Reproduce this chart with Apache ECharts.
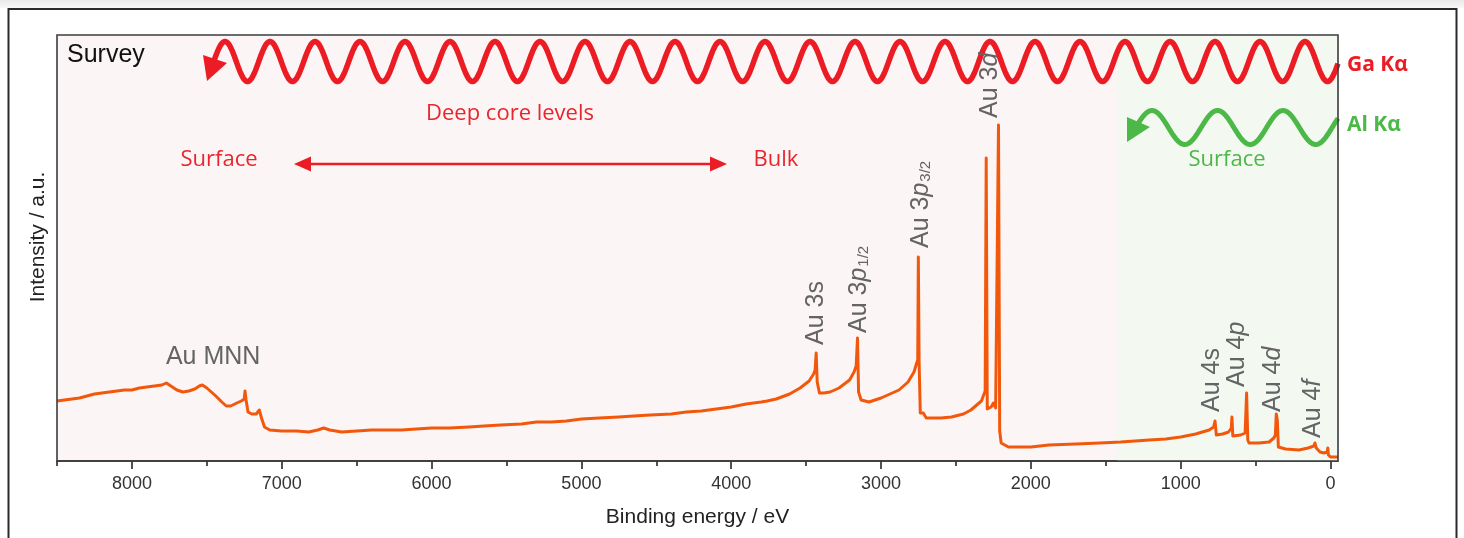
<!DOCTYPE html>
<html>
<head>
<meta charset="utf-8">
<script src="https://cdn.jsdelivr.net/npm/echarts@6/dist/echarts.min.js"></script>
<style>
html,body{margin:0;padding:0;background:#ffffff;}
#c{width:1464px;height:538px;}
</style>
</head>
<body>
<div id="c"></div>
<script>
// ---------- DATA ----------
const energy = [8500,8450,8400,8350,8300,8250,8200,8150,8100,8050,8000,7950,7900,7850,7800,7770,7740,7700,7660,7620,
  7580,7550,7530,7500,7470,7440,7400,7370,7340,7300,7270,7250,7245,7238,7225,7200,7170,7150,7135,7115,
  7080,7000,6900,6820,6760,6720,6680,6600,6500,6400,6300,6200,6100,6000,5880,5750,5650,5540,5400,5300,
  5200,5100,5000,4880,4750,4650,4540,4400,4300,4200,4100,4000,3900,3800,3760,3700,3610,3540,3480,3450,
  3440,3433,3426,3411,3380,3340,3280,3210,3180,3166,3157,3150,3133,3080,3000,2880,2820,2780,2762,2755,
  2751,2746,2738,2718,2698,2600,2530,2450,2400,2330,2305,2298,2291,2280,2265,2250,2235,2224,2216,2208,
  2198,2150,2000,1880,1700,1540,1400,1210,1100,1000,900,810,780,771,762,720,680,662,658,652,
  600,570,560,552,544,480,410,378,368,362,355,348,300,210,150,111,104,95,70,44,
  22,18,14,0,-50];
const intensity = [60,61,62,63,65,67,68,69,70,71,71,73,74,75,76,78,75,71,69,70,
  72,75,76,73,69,65,59,55,55,58,60,62,70,61,49,47,47,51,43,34,
  31,30,30,29,31,33,31,29,30,31,31,31,32,33,33,34,35,36,37,39,
  39,40,42,43,44,45,46,47,49,50,52,54,57,59,60,62,67,73,80,87,
  91,108,79,68,68,69,73,81,89,95,123,69,61,59,63,71,79,89,98,101,
  204,100,48,48,43,43,44,47,51,60,70,303,52,50,54,58,53,55,336,30,
  18,14,14,16,17,18,19,21,22,24,27,31,34,40,26,27,29,33,44,25,
  26,28,68,21,18,18,19,23,26,47,41,14,12,11,13,15,18,13,9,8,
  9,13,6,4,4];
const majorTicks = [0,1000,2000,3000,4000,5000,6000,7000,8000];
const minorTicks = [500,1500,2500,3500,4500,5500,6500,7500,8500];
const xMin = -50, xMax = 8500, yMin = 0, yMax = 426;
const alKaRegionStart = 1425;   // binding energy where the Al Kα (surface) region begins

const peakLabelText = [
  '{n|Au 3s}',
  '{n|Au 3}{i|p}{s|1/2}',
  '{n|Au 3}{i|p}{s|3/2}',
  '{n|Au 3}{i|d}',
  '{n|Au 4s}',
  '{n|Au 4}{i|p}',
  '{n|Au 4}{i|d}',
  '{n|Au 4}{i|f}'
];
const peakLabelEnergy = [3431, 3145, 2731, 2272, 792, 625, 385, 118];
const peakLabelLevel  = [116, 128, 213, 343, 49, 74, 49, 23];
const mnnLabel = 'Au MNN', mnnEnergy = 7458, mnnLevel = 104;

// ---------- STYLE ----------
const ORANGE = '#f2580c';
const PINK = '#fcf5f5';
const GREENBG = '#f3f8f1';
const RED = '#ec1c24';
const RED_TXT = '#e8262d';
const GREEN = '#4cb847';
const GRAY = '#646464';

const chart = echarts.init(document.getElementById('c'), null, {renderer: 'canvas'});
const seriesData = energy.map((e, i) => [e, intensity[i]]);

chart.setOption({
  animation: false,
  backgroundColor: '#ffffff',
  grid: {left: 57, top: 35, right: 126, bottom: 77, show: true, backgroundColor: PINK, borderWidth: 0},
  xAxis: [{
    type: 'value', min: xMin, max: xMax, inverse: true, position: 'bottom',
    axisLine: {show: true, onZero: false, lineStyle: {color: '#1a1a1a', width: 1.5}},
    axisTick: {show: true, customValues: majorTicks, length: 8, lineStyle: {color: '#1a1a1a', width: 1.5}},
    axisLabel: {customValues: majorTicks, fontSize: 18, color: '#333', margin: 14,
      fontFamily: 'Liberation Sans, Arial, sans-serif', formatter: v => String(v)},
    splitLine: {show: false},
    name: 'Binding energy / eV', nameLocation: 'middle', nameGap: 46,
    nameTextStyle: {fontSize: 21, color: '#222', fontFamily: 'Liberation Sans, Arial, sans-serif'}
  }, {
    type: 'value', min: xMin, max: xMax, inverse: true, position: 'bottom',
    axisLine: {show: false, onZero: false},
    axisTick: {show: true, customValues: minorTicks, length: 5, lineStyle: {color: '#1a1a1a', width: 1.5}},
    axisLabel: {show: false},
    splitLine: {show: false}
  }],
  yAxis: {
    type: 'value', min: yMin, max: yMax,
    axisLine: {show: false}, axisTick: {show: false}, axisLabel: {show: false}, splitLine: {show: false}
  },
  series: [{
    type: 'line', xAxisIndex: 0, yAxisIndex: 0,
    data: seriesData, symbol: 'none', showSymbol: false, sampling: null,
    lineStyle: {color: ORANGE, width: 3, join: 'round'},
    z: 5,
    markArea: {silent: true, itemStyle: {color: GREENBG}, data: [[{xAxis: alKaRegionStart}, {xAxis: xMin}]]}
  }]
});

// ---------- DECORATIONS ----------
const tl = chart.convertToPixel({gridIndex: 0}, [xMax, yMax]);
const br = chart.convertToPixel({gridIndex: 0}, [xMin, yMin]);

function wave(x0, x1, xPeak, period, yc, amp) {
  const pts = [];
  for (let x = x0; x <= x1 + 0.01; x += 1) {
    pts.push([x, yc - amp * Math.cos(2 * Math.PI * (x - xPeak) / period)]);
  }
  return pts;
}

const graphics = [];
graphics.push({type: 'rect', shape: {x: 0, y: 0, width: 1464, height: 8},
  style: {fill: new echarts.graphic.LinearGradient(0, 0, 0, 1, [{offset: 0, color: '#e9e9e9'}, {offset: 1, color: '#f8f8f8'}])}, z: 1});
graphics.push({type: 'rect', shape: {x: 8.5, y: 9, width: 1448, height: 545},
  style: {fill: null, stroke: '#2a2a2a', lineWidth: 2}, z: 1});
graphics.push({type: 'rect', shape: {x: tl[0], y: tl[1], width: br[0] - tl[0], height: br[1] - tl[1]},
  style: {fill: null, stroke: '#3c3c3c', lineWidth: 1.6}, z: 50});

graphics.push({type: 'text', x: 67, y: 55, z: 60,
  style: {text: 'Survey', fill: '#111', font: '25px "Liberation Sans", Arial, sans-serif', textVerticalAlign: 'middle'}});

// red wave (Ga Kα)
graphics.push({type: 'polyline', z: 40, shape: {points: wave(213, br[0], 225, 45, 61.5, 20)},
  style: {stroke: RED, lineWidth: 5.5, fill: null, lineJoin: 'round'}});
graphics.push({type: 'polygon', z: 40, shape: {points: [[203, 55], [207, 81], [227, 63]]}, style: {fill: RED}});

// green wave (Al Kα)
graphics.push({type: 'polyline', z: 40, shape: {points: wave(1138, br[0], 1152, 65.5, 127.5, 17)},
  style: {stroke: GREEN, lineWidth: 5, fill: null, lineJoin: 'round'}});
graphics.push({type: 'polygon', z: 40, shape: {points: [[1127, 117], [1127, 142], [1150, 127]]}, style: {fill: GREEN}});

const annFont = '22px "Open Sans", Lato, sans-serif';
function txt(t, x, y, color, font, align) {
  return {type: 'text', x: x, y: y, z: 60,
    style: {text: t, fill: color, font: font, textAlign: align || 'center', textVerticalAlign: 'middle'}};
}
graphics.push(txt('Deep core levels', 510, 114, RED_TXT, annFont));
graphics.push(txt('Surface', 219, 160, RED_TXT, annFont));
graphics.push(txt('Bulk', 776, 160, RED_TXT, annFont));
graphics.push(txt('Surface', 1227, 160, GREEN, annFont));
graphics.push(txt('Ga Kα', 1347, 65, RED, 'bold 21px "Open Sans", Lato, sans-serif', 'left'));
graphics.push(txt('Al Kα', 1347, 125, GREEN, 'bold 21px "Open Sans", Lato, sans-serif', 'left'));

// double arrow
graphics.push({type: 'line', z: 40, shape: {x1: 306, y1: 164, x2: 714, y2: 164}, style: {stroke: RED, lineWidth: 2.5}});
graphics.push({type: 'polygon', z: 40, shape: {points: [[294, 164], [311, 156.5], [311, 171.5]]}, style: {fill: RED}});
graphics.push({type: 'polygon', z: 40, shape: {points: [[727, 164], [710, 156.5], [710, 171.5]]}, style: {fill: RED}});

// y axis title
graphics.push({type: 'text', x: 38, y: 237, rotation: Math.PI / 2, z: 60,
  style: {text: 'Intensity / a.u.', fill: '#222', font: '21px "Liberation Sans", Arial, sans-serif',
    textAlign: 'center', textVerticalAlign: 'middle'}});

// peak labels
const labFam = '"Liberation Sans", Arial, sans-serif';
const rich = {
  n: {fontSize: 25, fontFamily: labFam, fill: GRAY},
  i: {fontSize: 25, fontFamily: labFam, fontStyle: 'italic', fill: GRAY},
  s: {fontSize: 15, fontFamily: labFam, fill: GRAY, verticalAlign: 'bottom', padding: [0, 0, 0, 1]}
};
peakLabelText.forEach((t, k) => {
  const p = chart.convertToPixel({gridIndex: 0}, [peakLabelEnergy[k], peakLabelLevel[k]]);
  graphics.push({type: 'text', x: p[0], y: p[1], rotation: Math.PI / 2, z: 60,
    style: {text: t, rich: rich, textAlign: 'left', textVerticalAlign: 'middle', fill: GRAY,
      font: '25px ' + labFam}});
});
const mp = chart.convertToPixel({gridIndex: 0}, [mnnEnergy, mnnLevel]);
graphics.push({type: 'text', x: mp[0], y: mp[1], z: 60,
  style: {text: mnnLabel, fill: GRAY, font: '25px ' + labFam, textAlign: 'center', textVerticalAlign: 'middle'}});

chart.setOption({graphic: graphics});
</script>
</body>
</html>
